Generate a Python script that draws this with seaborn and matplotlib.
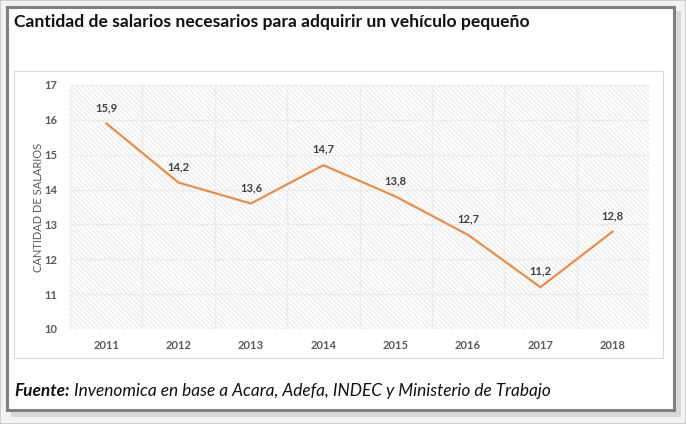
import matplotlib
matplotlib.use("Agg")
import matplotlib.pyplot as plt
from matplotlib.patches import Rectangle
import seaborn as sns
import pandas as pd

years = ["2011", "2012", "2013", "2014", "2015", "2016", "2017", "2018"]
salarios = [15.9, 14.2, 13.6, 14.7, 13.8, 12.7, 11.2, 12.8]
labels = ["15,9", "14,2", "13,6", "14,7", "13,8", "12,7", "11,2", "12,8"]
yticks = [10, 11, 12, 13, 14, 15, 16, 17]

title = "Cantidad de salarios necesarios para adquirir un vehículo pequeño"
ylabel = "CANTIDAD DE SALARIOS"
src_bold = "Fuente:"
src_text = " Invenomica en base a Acara, Adefa, INDEC y Ministerio de Trabajo"

sns.set_theme(style="white")
FONT = ["Lato", "DejaVu Sans"]
plt.rcParams["font.family"] = FONT
plt.rcParams["hatch.linewidth"] = 0.45

W, H = 686, 424
fig = plt.figure(figsize=(W / 100, H / 100), dpi=100)
fig.patch.set_facecolor("white")

def px(x, y, w, h):
    return (x / W, 1 - (y + h) / H, w / W, h / H)

# shadow and frame
fig.add_artist(Rectangle((0, 0), 1, 1, transform=fig.transFigure, facecolor="#f2f2f2",
                         edgecolor="#c8c8c8", lw=1.2, zorder=0))
x0, y0, w0, h0 = px(11, 11, 670, 406)
fig.add_artist(Rectangle((x0, y0), w0, h0, transform=fig.transFigure, facecolor="#d9d9d9",
                         edgecolor="none", zorder=0.5))
x0, y0, w0, h0 = px(7, 7, 667, 403)
fig.add_artist(Rectangle((x0, y0), w0, h0, transform=fig.transFigure, facecolor="white",
                         edgecolor="#808080", lw=2.2, zorder=1))
# inner chart box
x0, y0, w0, h0 = px(14, 71, 649, 287)
fig.add_artist(Rectangle((x0, y0), w0, h0, transform=fig.transFigure, facecolor="white",
                         edgecolor="#d9d9d9", lw=0.8, zorder=1.5))

ax = fig.add_axes(px(70, 85, 579, 244))
ax.set_zorder(2)
ax.patch.set_alpha(0)

ax.add_patch(Rectangle((0, 0), 1, 1, transform=ax.transAxes, facecolor="white",
                       edgecolor="#dadada", hatch="\\" * 7, lw=0, zorder=0))

df = pd.DataFrame({"year": years, "salarios": salarios})
sns.lineplot(data=df, x="year", y="salarios", ax=ax, color="#fbe3cd", lw=2.6, zorder=3)
sns.lineplot(data=df, x="year", y="salarios", ax=ax, color="#d98a4e", lw=1.3, zorder=4)

ax.set_xlim(-0.5, len(years) - 0.5)
ax.set_ylim(10, 17)
ax.set_yticks(yticks)
ax.set_yticklabels([str(t) for t in yticks])
for v in range(len(years) + 1):
    ax.axvline(v - 0.5, color="#ececec", lw=1.0, zorder=1)
for t in yticks:
    ax.axhline(t, color="#ececec", lw=1.0, zorder=1)

for s in ax.spines.values():
    s.set_visible(False)
ax.tick_params(axis="both", length=0, colors="#595959", labelsize=8)
ax.tick_params(axis="y", pad=9)
ax.tick_params(axis="x", pad=8)
for lab in ax.get_xticklabels() + ax.get_yticklabels():
    lab.set_fontweight("bold")
ax.set_xlabel("")
ax.set_ylabel(ylabel, color="#595959", fontsize=8, labelpad=0)

for i, (v, lab) in enumerate(zip(salarios, labels)):
    ax.annotate(lab, (i, v), xytext=(0, 11.5), textcoords="offset points", ha="center",
                va="center", fontsize=8, fontweight="bold", color="#404040", zorder=5)

fig.text(14 / W, 1 - 22 / H, title, fontsize=12.6, fontweight="bold", color="#111111",
         va="center", ha="left")

fig.canvas.draw()
r = fig.canvas.get_renderer()
t1 = fig.text(14 / W, 1 - 391 / H, src_bold, fontsize=12.4, fontweight="bold", style="italic",
              color="#111111", va="center", ha="left")
bb = t1.get_window_extent(renderer=r)
fig.text(bb.x1 / W, 1 - 391 / H, src_text, fontsize=12.4, style="italic",
         color="#111111", va="center", ha="left")

fig.savefig("out.png", dpi=100)
